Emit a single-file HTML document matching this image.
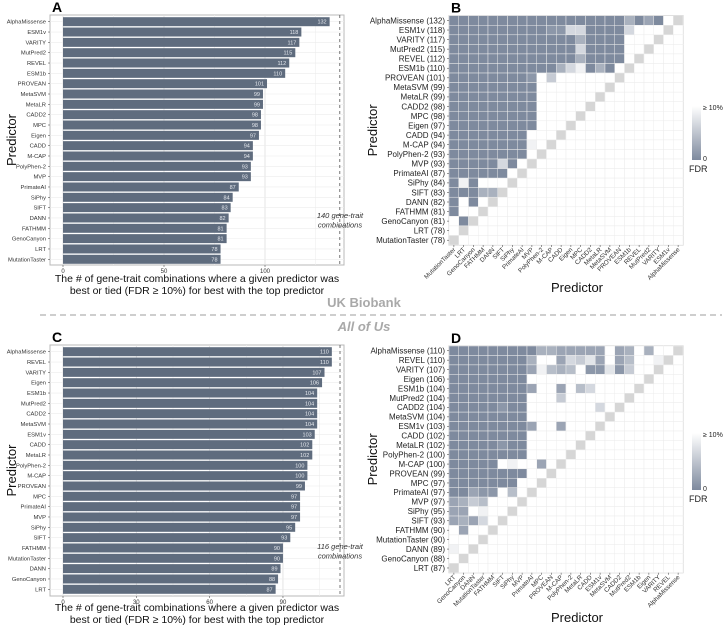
<!DOCTYPE html>
<html><head><meta charset="utf-8">
<style>
html,body{margin:0;padding:0;background:#fff;}
svg{display:block;font-family:"Liberation Sans",sans-serif;}
</style></head>
<body>
<svg id="fig" width="728" height="627" viewBox="0 0 728 627"></svg>
<script>
// ---------- DATA ----------
const ukNames = ["AlphaMissense","ESM1v","VARITY","MutPred2","REVEL","ESM1b","PROVEAN","MetaSVM","MetaLR","CADD2","MPC","Eigen","CADD","M-CAP","PolyPhen-2","MVP","PrimateAI","SiPhy","SIFT","DANN","FATHMM","GenoCanyon","LRT","MutationTaster"];
const ukValues = [132,118,117,115,112,110,101,99,99,98,98,97,94,94,93,93,87,84,83,82,81,81,78,78];
const ukTicks = [0,50,100];
const ukTotal = 140;
const aouNames = ["AlphaMissense","REVEL","VARITY","Eigen","ESM1b","MutPred2","CADD2","MetaSVM","ESM1v","CADD","MetaLR","PolyPhen-2","M-CAP","PROVEAN","MPC","PrimateAI","MVP","SiPhy","SIFT","FATHMM","MutationTaster","DANN","GenoCanyon","LRT"];
const aouValues = [110,110,107,106,104,104,104,104,103,102,102,100,100,99,97,97,97,95,93,90,90,89,88,87];
const aouTicks = [0,30,60,90];
const aouTotal = 116;
// heatmap FDR levels per row (0 = FDR 0 dark, 9 = >=10% white), columns ordered low->high rank
const ukFdr = [
"00000000000000000030209",
"0000000000116600006999",
"000000000000030000999",
"00000000000006000099",
"0000000000000300009",
"00000000000368030",
"00000000195999",
"0000000009999",
"000000000999",
"00000000099",
"0000000009",
"000000000",
"00000000",
"0000000089",
"00000000",
"0000060",
"000000",
"08099",
"00033",
"0909",
"099",
"90",
"9",
""];
const aouFdr = [
"00000000033222229239399",
"0000000039926572924998",
"000000002843491171599",
"00000000999999999999",
"0000000029929469999",
"000000009995999999",
"00000100999999969",
"0000000099999999",
"000000002992999",
"00000000999999",
"0000010099999",
"000000009999",
"00000989929",
"0000000099",
"000000099",
"00211949",
"2354999",
"229899",
"23269",
"9299",
"999",
"89",
"9",
""];

// ---------- HELPERS ----------
const svg = document.getElementById('fig');
const NS = 'http://www.w3.org/2000/svg';
function mk(tag, attrs, parent){
  const e = document.createElementNS(NS, tag);
  for (const k in attrs) e.setAttribute(k, attrs[k]);
  (parent||svg).appendChild(e);
  return e;
}
function txt(s, attrs, parent){ const t = mk('text', attrs, parent); t.textContent = s; return t; }

// ---------- BAR CHART ----------
function barChart(names, values, ticks, total, cfg){
  const g = mk('g', {});
  
  
  const x = v => cfg.x0 + v * cfg.k;
  const rowY = i => cfg.y0 + i * cfg.step;
  const pan = mk('rect', {x:cfg.left, y:cfg.top, width:cfg.right-cfg.left, height:cfg.bottom-cfg.top, fill:'#fff', stroke:'#b8b8b8', 'stroke-width':1}, g);
  
  
  for (let i = 0; i < ticks.length; i++){
    mk('line', {x1:x(ticks[i]), x2:x(ticks[i]), y1:cfg.top, y2:cfg.bottom, stroke:'#dedede', 'stroke-width':0.8}, g);
    const mid = ticks[i] + (ticks[1]-ticks[0])/2;
    if (x(mid) < cfg.right) mk('line', {x1:x(mid), x2:x(mid), y1:cfg.top, y2:cfg.bottom, stroke:'#efefef', 'stroke-width':0.6}, g);
  }
  names.forEach((n, i) => {
    mk('line', {x1:cfg.left, x2:cfg.right, y1:rowY(i), y2:rowY(i), stroke:'#ececec', 'stroke-width':0.6}, g);
  });
  const dl = mk('line', {x1:x(total)-cfg.dashOff, x2:x(total)-cfg.dashOff, y1:cfg.top, y2:cfg.bottom, stroke:'#555', 'stroke-width':0.8, 'stroke-dasharray':'3,3'}, g);
  
  
  names.forEach((n, i) => {
    const b = mk('rect', {x:x(0), y:rowY(i)-4.5, width:x(values[i])-x(0), height:9, fill:'#5f6c7e'}, g);
    
    
    const v = txt(String(values[i]), {x:x(values[i])-3, y:rowY(i)+2, 'font-size':5.5, fill:'#e6e9ee', 'text-anchor':'end'}, g);
    
    
    const l = txt(n, {x:cfg.left-4, y:rowY(i)+2, 'font-size':5.8, fill:'#333', 'text-anchor':'end'}, g);
    
    
    mk('line', {x1:cfg.left-2, x2:cfg.left, y1:rowY(i), y2:rowY(i), stroke:'#555', 'stroke-width':0.6}, g);
  });
  ticks.forEach(t => {
    mk('line', {x1:x(t), x2:x(t), y1:cfg.bottom, y2:cfg.bottom+2, stroke:'#555', 'stroke-width':0.6}, g);
    const tl = txt(String(t), {x:x(t), y:cfg.bottom+8, 'font-size':6, fill:'#333', 'text-anchor':'middle'}, g);
    
    
  });
  const yt = txt('Predictor', {x:0, y:0, 'font-size':13, fill:'#111', 'text-anchor':'middle', transform:`translate(16,${(cfg.top+cfg.bottom)/2}) rotate(-90)`}, g);
  
  
  const xt = txt('', {x:197, y:cfg.bottom+cfg.xtOff, 'font-size':10.5, fill:'#111', 'text-anchor':'middle'}, g);
  
  
  const s1 = mk('tspan', {x:197}, xt); s1.textContent = 'The # of gene-trait combinations where a given predictor was';
  const s2 = mk('tspan', {x:197, dy:12}, xt); s2.textContent = 'best or tied (FDR \u2265 10%) for best with the top predictor';
  const an = txt('', {x:340, y:cfg.annY, 'font-size':7.5, 'font-style':'italic', fill:'#333', 'text-anchor':'middle'}, g);
  
  
  const a1 = mk('tspan', {x:340}, an); a1.textContent = total + ' gene-trait';
  const a2 = mk('tspan', {x:340, dy:9.5}, an); a2.textContent = 'combinations';
  const pl = txt(cfg.label, {x:52, y:cfg.top-3, 'font-size':14, 'font-weight':'bold', fill:'#000'}, g);
  
  
}
barChart(ukNames, ukValues, ukTicks, ukTotal, {name:'panel-a-uk-biobank-bars', left:50, right:344, top:15, bottom:265, x0:63, k:2.02, y0:21.7, step:10.33, dashOff:6, annY:218, xtOff:17, label:'A'});
barChart(aouNames, aouValues, aouTicks, aouTotal, {name:'panel-c-all-of-us-bars', left:50, right:344, top:345, bottom:596, x0:63, k:2.444, y0:351.7, step:10.33, dashOff:6.5, annY:549, xtOff:15, label:'C'});

// ---------- HEATMAP ----------
function lvlColor(l){
  const t = l/9;
  const a = [126,138,158], b = [255,255,255];
  return `rgb(${a.map((v,i)=>Math.round(v+(b[i]-v)*t)).join(',')})`;
}
function heatmap(names, values, fdr, cfg){
  const g = mk('g', {});
  
  
  const n = names.length;
  const cw = (cfg.right-cfg.left)/n, ch = (cfg.bottom-cfg.top)/n;
  const cx = c => cfg.left + c*cw, ry = r => cfg.top + r*ch;
  mk('rect', {x:cfg.left, y:cfg.top, width:cfg.right-cfg.left, height:cfg.bottom-cfg.top, fill:'#fff', stroke:'#b8b8b8', 'stroke-width':1}, g);
  for (let r = 0; r < n; r++){
    const row = fdr[r] || '';
    for (let c = 0; c < n; c++){
      let fill;
      if (c === n-1-r) fill = '#d6d6d6';
      else if (c < n-1-r) fill = lvlColor(parseInt(row[c] || '9', 10));
      else fill = '#ffffff';
      const cell = mk('rect', {x:cx(c), y:ry(r), width:cw, height:ch, fill:fill, stroke:'#ececec', 'stroke-width':0.5}, g);
      
      
    }
    const l = txt(`${names[r]} (${values[r]})`, {x:cfg.left-4, y:ry(r)+ch/2+2.8, 'font-size':8, fill:'#222', 'text-anchor':'end'}, g);
    
    
    mk('line', {x1:cfg.left-2, x2:cfg.left, y1:ry(r)+ch/2, y2:ry(r)+ch/2, stroke:'#555', 'stroke-width':0.6}, g);
  }
  for (let c = 0; c < n; c++){
    const name = names[n-1-c];
    const px = cx(c)+cw/2;
    mk('line', {x1:px, x2:px, y1:cfg.bottom, y2:cfg.bottom+2, stroke:'#555', 'stroke-width':0.6}, g);
    const t = txt(name, {x:0, y:0, 'font-size':6.3, fill:'#333', 'text-anchor':'end', transform:`translate(${px+2},${cfg.bottom+5}) rotate(-45)`}, g);
    
    
  }
  const xt = txt('Predictor', {x:577, y:cfg.xtY, 'font-size':13, fill:'#111', 'text-anchor':'middle'}, g);
  
  
  const yt = txt('Predictor', {x:0, y:0, 'font-size':13, fill:'#111', 'text-anchor':'middle', transform:`translate(377,${(cfg.top+cfg.bottom)/2}) rotate(-90)`}, g);
  
  
  const pl = txt(cfg.label, {x:451, y:cfg.top-3, 'font-size':14, 'font-weight':'bold', fill:'#000'}, g);
  
  
  const lg = mk('g', {}, g);
  
  
  const gid = 'grad' + cfg.label;
  const defs = mk('defs', {}, lg);
  const gr = mk('linearGradient', {id:gid, x1:0, y1:0, x2:0, y2:1}, defs);
  mk('stop', {offset:0, 'stop-color':'#ffffff'}, gr);
  mk('stop', {offset:1, 'stop-color':'#7e8a9e'}, gr);
  mk('rect', {x:692, y:cfg.legTop, width:9, height:cfg.legH, fill:`url(#${gid})`}, lg);
  txt('\u2265 10%', {x:703, y:cfg.legTop+4, 'font-size':7, fill:'#222'}, lg);
  txt('0', {x:703, y:cfg.legTop+cfg.legH+1, 'font-size':7, fill:'#222'}, lg);
  txt('FDR', {x:689, y:cfg.legTop+cfg.legH+12, 'font-size':9, fill:'#222'}, lg);
}
heatmap(ukNames, ukValues, ukFdr, {name:'panel-b-uk-biobank-heatmap', left:449, right:683, top:15.7, bottom:245, xtY:292, legTop:106, legH:54, label:'B'});
heatmap(aouNames, aouValues, aouFdr, {name:'panel-d-all-of-us-heatmap', left:449, right:683, top:346, bottom:572.7, xtY:622, legTop:433, legH:57, label:'D'});

// ---------- SEPARATOR ----------
const uk = txt('UK Biobank', {x:364, y:307, 'font-size':13, 'font-weight':'bold', fill:'#a9a9a9', 'text-anchor':'middle'});


const sep = mk('line', {x1:40, x2:722, y1:315, y2:315, stroke:'#b0b0b0', 'stroke-width':1.2, 'stroke-dasharray':'6,4'});


const aou = txt('All of Us', {x:364, y:331, 'font-size':13, 'font-weight':'bold', 'font-style':'italic', fill:'#a9a9a9', 'text-anchor':'middle'});


</script>
</body></html>
